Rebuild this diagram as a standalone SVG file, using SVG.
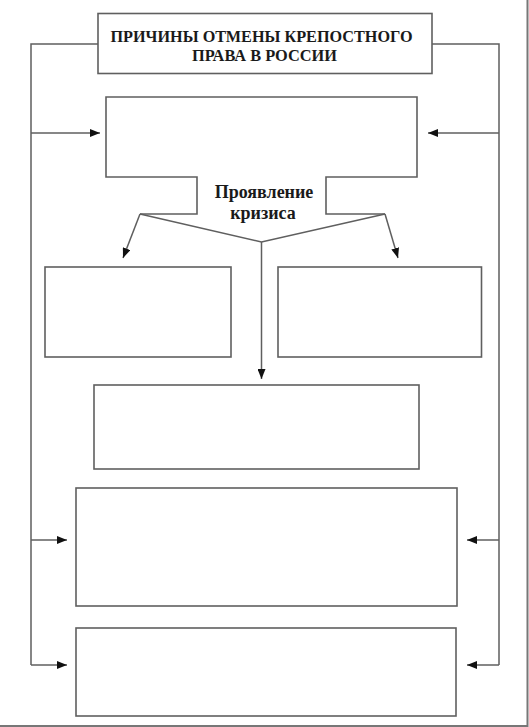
<svg xmlns="http://www.w3.org/2000/svg" width="529" height="727" viewBox="0 0 529 727">
<style>
.box{fill:#fff;stroke:#5f5f5f;stroke-width:1.6}
.ln{fill:none;stroke:#5f5f5f;stroke-width:1.5}
.arr{fill:none;stroke:#5f5f5f;stroke-width:1.5;marker-end:url(#ah)}
.t{font-family:"Liberation Serif","Times New Roman",serif;font-weight:bold;fill:#1a1a1a;text-anchor:middle}
</style>
<defs>
<marker id="ah" markerUnits="userSpaceOnUse" markerWidth="11" markerHeight="8" refX="10" refY="4" orient="auto">
<path d="M0,0 L10,4 L0,8 z" fill="#111"/>
</marker>
</defs>
<rect width="529" height="727" fill="#fff"/>
<g id="frame-border">
<path d="M0,726 H527.5 V0" fill="none" stroke="#777" stroke-width="2"/>
</g>
<g id="connectors">
<path class="ln" d="M98,44 H31 V665"/>
<path class="ln" d="M432,44 H499 V665"/>
<path class="arr" d="M31,133 H100"/>
<path class="arr" d="M499,133 H428"/>
<path class="arr" d="M31,540 H67"/>
<path class="arr" d="M499,540 H467"/>
<path class="arr" d="M31,665 H67"/>
<path class="arr" d="M499,665 H467"/>
<path class="ln" d="M140,214 L261.5,242 L385,214"/>
<path class="arr" d="M140,214 L123,258"/>
<path class="arr" d="M385,214 L398,258"/>
<path class="arr" d="M261.5,242 V379"/>
</g>
<g id="title">
<rect class="box" x="98" y="13.5" width="334" height="60"/>
<text class="t" x="261.5" y="42" font-size="16" textLength="302" lengthAdjust="spacingAndGlyphs">ПРИЧИНЫ ОТМЕНЫ КРЕПОСТНОГО</text>
<text class="t" x="264.5" y="60.5" font-size="16" textLength="145" lengthAdjust="spacingAndGlyphs">ПРАВА В РОССИИ</text>
</g>
<g id="crisis">
<path class="box" d="M140,214 H197 V177 H106 V97 H417 V177 H326 V214 H385" fill="none"/>
<text class="t" x="264" y="197.5" font-size="18">Проявление</text>
<text class="t" x="263" y="219" font-size="18">кризиса</text>
</g>
<g id="box-left"><rect class="box" x="45" y="267" width="186" height="90"/></g>
<g id="box-right"><rect class="box" x="278" y="267" width="203.5" height="90"/></g>
<g id="box-center"><rect class="box" x="94" y="385" width="325" height="84"/></g>
<g id="box-4"><rect class="box" x="76" y="488" width="381" height="118"/></g>
<g id="box-5"><rect class="box" x="76" y="628" width="380" height="88"/></g>
</svg>
